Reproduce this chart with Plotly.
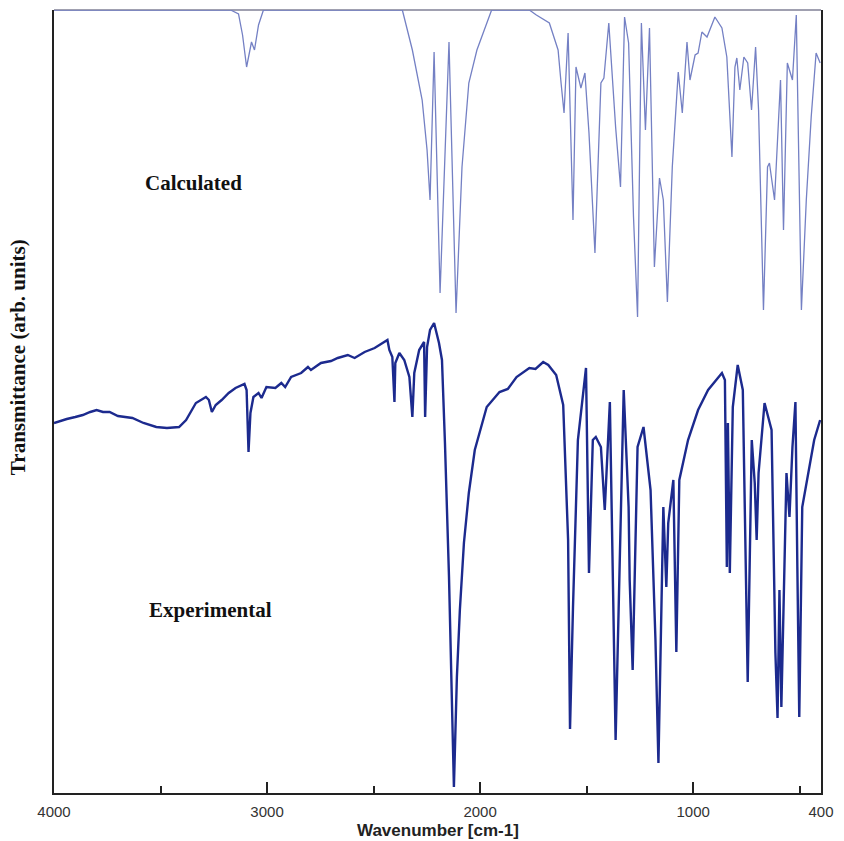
import plotly.graph_objects as go

# Calculated spectrum (wavenumber cm-1, transmittance arb. units)
calc_wn = [4000, 3171, 3134, 3115, 3096, 3082, 3073, 3059, 3040, 3017,
           2365, 2318, 2272, 2249, 2235, 2216, 2188, 2146, 2113, 2085, 2053, 2015, 1946,
           1769, 1736, 1675, 1634, 1620, 1606, 1587, 1573, 1564, 1550, 1527, 1508, 1489,
           1461, 1433, 1419, 1396, 1364, 1341, 1322, 1303, 1280, 1261, 1243, 1224, 1205,
           1187, 1182, 1158, 1140, 1121, 1098, 1070, 1051, 1029, 1015, 991, 977, 959, 935,
           898, 865, 842, 828, 818, 804, 795, 781, 762, 744, 726, 707, 693, 670, 651, 642,
           618, 590, 576, 558, 534, 516, 502, 492, 469, 446, 423, 404]
calc_t = [783, 783, 779, 758, 726, 743, 751, 743, 768, 783,
          783, 743, 693, 643, 593, 741, 500, 751, 480, 626, 710, 743, 783,
          783, 778, 770, 743, 710, 680, 760, 626, 573, 726, 705, 720, 660,
          540, 710, 715, 770, 666, 606, 776, 750, 576, 476, 770, 663, 765,
          593, 526, 615, 593, 491, 626, 721, 680, 751, 713, 738, 740, 761, 756,
          776, 765, 736, 676, 636, 726, 735, 703, 736, 730, 683, 746, 683, 483, 626, 630,
          593, 713, 563, 730, 713, 778, 626, 483, 593, 676, 740, 730]

# Experimental spectrum
exp_wn = [4000, 3986, 3940, 3900, 3865, 3830, 3800, 3770, 3739, 3700, 3632, 3580, 3520,
          3470, 3413, 3380, 3334, 3287, 3273, 3259,
          3241, 3213, 3180, 3148, 3106, 3096, 3087, 3078, 3064, 3040, 3026, 3003, 2961,
          2933, 2915, 2887, 2840, 2808, 2794, 2747, 2700, 2668, 2621, 2589, 2542, 2495, 2449,
          2435, 2426, 2412, 2402, 2398, 2379, 2356, 2332, 2318, 2309, 2286, 2263, 2258,
          2249, 2235, 2216, 2193, 2179, 2165, 2146, 2132, 2123, 2109, 2095, 2076, 2053,
          2025, 1969, 1909, 1870, 1829, 1800, 1769, 1740, 1704, 1680, 1643, 1610, 1587, 1578,
          1564, 1541, 1503,
          1489, 1471, 1457, 1433, 1415, 1391, 1364, 1326, 1303, 1298, 1284, 1261, 1233,
          1200, 1177, 1163, 1140, 1126, 1117, 1093, 1079, 1065, 1024, 977, 930, 865, 851,
          842, 837, 828, 814, 791, 767, 744, 725, 711, 702, 693, 665, 632, 614, 604, 595,
          586, 562, 548, 534, 520, 511, 502, 488, 465, 432, 404]
exp_t = [370, 371, 374, 376, 378, 381, 383, 381, 381, 377, 375, 370, 366,
         365, 366, 373, 390, 396, 393, 381,
         388, 393, 400, 405, 409, 403, 341, 380, 396, 400, 395, 406, 405,
         410, 406, 416, 420, 426, 423, 430, 432, 435, 438, 435, 441, 445, 451,
         453, 443, 436, 391, 430, 440, 433, 416, 376, 420, 443, 451, 376,
         446, 463, 470, 450, 433, 350, 216, 83, 6, 116, 183, 250, 300,
         343, 386, 401, 404, 416, 420, 425, 424, 431, 428, 418, 388, 253, 64,
         186, 353, 425,
         220, 353, 356, 346, 283, 391, 53, 403, 286, 213, 123, 346, 366,
         303, 153, 30, 286, 206, 270, 313, 141, 313, 353, 383, 403, 420, 413,
         226, 370, 220, 386, 428, 403, 111, 353, 310, 253, 320, 390, 363, 140, 75, 203,
         86, 320, 276, 346, 391, 226, 76, 286, 313, 353, 373]

tick_vals = [4000, 3000, 2000, 1000, 400]
tick_text = ["4000", "3000", "2000", "1000", "400"]
minor_vals = [3500, 2500, 1500, 500]

fig = go.Figure()
fig.add_trace(go.Scatter(x=calc_wn, y=calc_t, mode="lines",
                         line=dict(color="#7480c4", width=1.3), hoverinfo="skip"))
fig.add_trace(go.Scatter(x=exp_wn, y=exp_t, mode="lines",
                         line=dict(color="#1c2a8e", width=2.4), hoverinfo="skip"))

fig.update_layout(
    width=844, height=841,
    margin=dict(l=54, r=17, t=10, b=48),
    paper_bgcolor="white", plot_bgcolor="white",
    showlegend=False,
    xaxis=dict(range=[4000, 400], showgrid=False, zeroline=False,
               showline=True, linecolor="#222", linewidth=2,
               ticks="inside", ticklen=11, tickwidth=2, tickcolor="#222",
               tickvals=tick_vals, ticktext=tick_text, ticklabelstandoff=4,
               minor=dict(tickvals=minor_vals, ticks="inside", ticklen=7,
                          tickwidth=2, tickcolor="#222"),
               tickfont=dict(family="Liberation Sans, Arial", size=15, color="#333")),
    yaxis=dict(range=[0, 783], showgrid=False, zeroline=False,
               showline=True, linecolor="#222", linewidth=2, mirror=True,
               showticklabels=False, ticks=""),
    shapes=[dict(type="line", xref="paper", yref="paper", x0=0, x1=1, y0=1, y1=1,
                 line=dict(color="#a0a0b0", width=2), layer="below")],
    annotations=[
        dict(text="<b>Wavenumber [cm-1]</b>", xref="paper", yref="paper",
             x=0.5, y=-0.0485, yanchor="middle", xanchor="center", showarrow=False,
             font=dict(family="Liberation Sans, Arial", size=17, color="#222")),
        dict(text="<b>Transmittance (arb. units)</b>", xref="paper", yref="paper",
             x=-0.0466, y=0.557, xanchor="center", yanchor="middle",
             textangle=-90, showarrow=False,
             font=dict(family="Liberation Serif, Times New Roman", size=21, color="#111")),
        dict(text="<b>Calculated</b>", x=3343, y=610, xref="x", yref="y",
             showarrow=False,
             font=dict(family="Liberation Serif, Times New Roman", size=21, color="#111")),
        dict(text="<b>Experimental</b>", x=3264, y=183, xref="x", yref="y",
             showarrow=False,
             font=dict(family="Liberation Serif, Times New Roman", size=21, color="#111")),
    ],
)

fig.write_html("out.html")
